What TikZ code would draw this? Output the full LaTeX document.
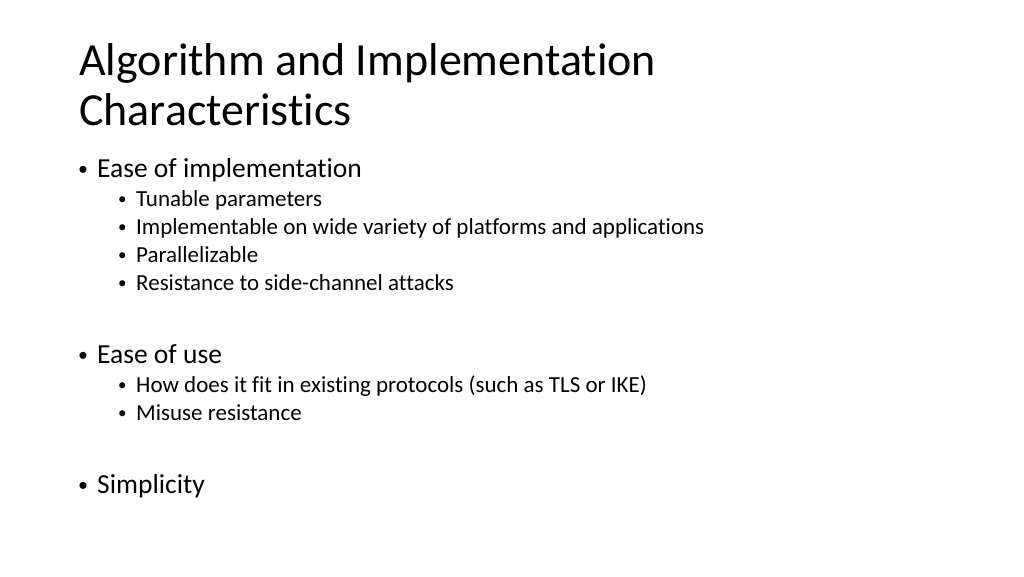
\documentclass[tikz,border=0pt]{standalone}
\usepackage{fontspec}
\setmainfont{Carlito}[Ligatures={NoCommon,NoRequired,NoContextual}]
\begin{document}
\begin{tikzpicture}[x=1pt,y=-1pt,
  ttl/.style={anchor=base west,inner sep=0pt,font=\fontsize{46}{46}\selectfont},
  l1/.style={anchor=base west,inner sep=0pt,font=\fontsize{27.5}{27.5}\selectfont},
  l2/.style={anchor=base west,inner sep=0pt,font=\fontsize{23}{23}\selectfont},
  b1/.style={anchor=base west,inner sep=0pt,font=\fontsize{20}{20}\selectfont},
  b2/.style={anchor=base west,inner sep=0pt,font=\fontsize{17}{17}\selectfont}]
\useasboundingbox (0,0) rectangle (1024,576);
\node[ttl] (t1) at (79,75) {Algorithm and Implementation};
\node[ttl] (t2) at (79,125) {Characteristics};
\node[b1] (ab) at (78,175) {•};
\node[l1] (a) at (97,177) {Ease of implementation};
\node[b2] (a1b) at (118,204) {•};
\node[l2] (a1) at (136,206) {Tunable parameters};
\node[b2] (a2b) at (118,232) {•};
\node[l2] (a2) at (136,234) {Implementable on wide variety of platforms and applications};
\node[b2] (a3b) at (118,260) {•};
\node[l2] (a3) at (136,262) {Parallelizable};
\node[b2] (a4b) at (118,288) {•};
\node[l2] (a4) at (136,290) {Resistance to side-channel attacks};
\node[b1] (bb) at (78,361) {•};
\node[l1] (b) at (97,363) {Ease of use};
\node[b2] (b1b) at (118,390) {•};
\node[l2] (b1) at (136,392) {How does it fit in existing protocols (such as TLS or IKE)};
\node[b2] (b2b) at (118,418) {•};
\node[l2] (b2) at (136,420) {Misuse resistance};
\node[b1] (cb) at (78,491) {•};
\node[l1] (c) at (97,493) {Simplicity};
\end{tikzpicture}
\end{document}
